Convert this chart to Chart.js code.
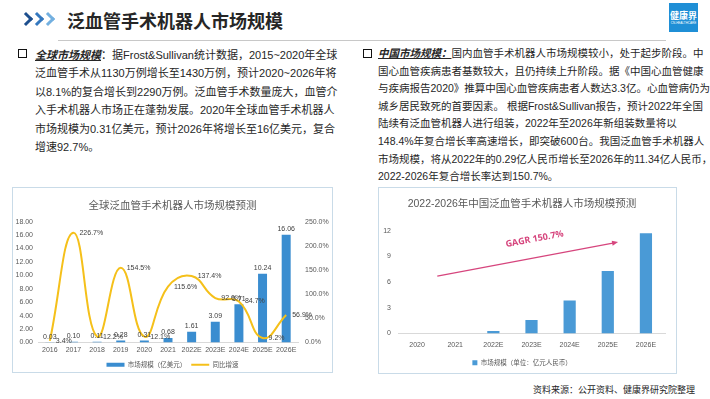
<!DOCTYPE html>
<html>
<head>
<meta charset="utf-8">
<script src="https://cdn.jsdelivr.net/npm/chart.js@4.4.0/dist/chart.umd.min.js"></script>
<style>
body { margin: 0; width: 710px; height: 399px; position: relative; overflow: hidden; background: #fff;
       font-family: "Liberation Sans", "Noto Sans CJK SC", sans-serif; color: #262626; }
.chev { position: absolute; top: 14px; width: 7px; height: 7px; border-top: 3px solid; border-right: 3px solid; transform: rotate(45deg); }
#title { position: absolute; left: 67px; top: 7px; font-size: 18px; font-weight: bold; color: #262626; }
#rule { position: absolute; left: 58px; top: 40px; width: 608px; height: 1px; background: #c8c8c8; }
#logo { position: absolute; left: 669px; top: 3px; width: 29px; height: 29px; background: #1f8fd6; color: #fff; text-align: center; }
#logo .cn { font-size: 9px; font-weight: bold; margin-top: 8px; line-height: 10px; }
#logo .en { font-size: 3px; line-height: 4px; }
.box { position: absolute; width: 7px; height: 7px; border: 1.5px solid #111; }
.para { position: absolute; white-space: nowrap; }
.para b { font-style: italic; text-decoration: underline; }
.frame { position: absolute; border: 1px solid #c9dbe8; }
canvas { position: absolute; }
#source { position: absolute; left: 533px; top: 383px; font-size: 9px; }
</style>
</head>
<body>
<span class="chev" style="left:21px;color:#1d4f8e"></span>
<span class="chev" style="left:32px;color:#3478bf"></span>
<span class="chev" style="left:43px;color:#73b0e0"></span>
<div id="title">泛血管手术机器人市场规模</div>
<div id="rule"></div>
<div id="logo"><div class="cn">健康界</div><div class="en">CN-HEALTHCARE</div></div>

<div class="box" style="left:18px;top:49px"></div>
<div class="para" style="left:35px;top:46px;line-height:18.4px;font-size:11px">
<b>全球市场规模</b>：据Frost&amp;Sullivan统计数据，2015~2020年全球<br>
泛血管手术从1130万例增长至1430万例，预计2020~2026年将<br>
以8.1%的复合增长到2290万例。泛血管手术数量庞大，血管介<br>
入手术机器人市场正在蓬勃发展。2020年全球血管手术机器人<br>
市场规模为0.31亿美元，预计2026年将增长至16亿美元，复合<br>
增速92.7%。
</div>

<div class="box" style="left:363px;top:49px"></div>
<div class="para" style="left:378px;top:45px;line-height:17.6px;font-size:10.5px">
<b>中国市场规模：</b>国内血管手术机器人市场规模较小，处于起步阶段。中<br>
国心血管疾病患者基数较大，且仍持续上升阶段。据《中国心血管健康<br>
与疾病报告2020》推算中国心血管疾病患者人数达3.3亿。心血管病仍为<br>
城乡居民致死的首要因素。 根据Frost&amp;Sullivan报告，预计2022年全国<br>
陆续有泛血管机器人进行组装，2022年至2026年新组装数量将以<br>
148.4%年复合增长率高速增长，即突破600台。我国泛血管手术机器人<br>
市场规模，将从2022年的0.29亿人民币增长至2026年的11.34亿人民币，<br>
2022-2026年复合增长率达到150.7%。
</div>

<div class="frame" style="left:12px;top:187px;width:319px;height:184px"></div>
<canvas id="globalChart" style="left:13px;top:188px;width:319px;height:184px" width="319" height="184"></canvas>

<div class="frame" style="left:378px;top:187px;width:297px;height:185px"></div>
<canvas id="chinaChart" style="left:379px;top:188px;width:296px;height:184px" width="296" height="184"></canvas>

<div id="source">资料来源：公开资料、健康界研究院整理</div>

<script>
// 全球市场数据
const globalYears = ['2016', '2017', '2018', '2019', '2020', '2021', '2022E', '2023E', '2024E', '2025E', '2026E'];
const globalMarket = [0.03, 0.10, 0.11, 0.28, 0.31, 0.68, 1.61, 3.09, 5.71, 10.24, 16.06];
const globalGrowth = [3.4, 226.7, 12.2, 154.5, 12.1, 115.6, 137.4, 92.0, 84.7, 9.2, 56.9];

// 中国市场数据
const chinaYears = ['2020', '2021', '2022E', '2023E', '2024E', '2025E', '2026E'];
const chinaMarket = [0, 0, 0.29, 1.56, 3.84, 7.29, 11.7];
const cagrLabel = 'GAGR 150.7%';

Chart.defaults.font.family = "'Liberation Sans', 'Noto Sans CJK SC', sans-serif";
Chart.defaults.color = '#595959';
Chart.defaults.animation = false;

const tickColor = '#595959';
const labelColor = '#404040';

// Підписи значень (бари та лінія)
const valueLabels = {
    id: 'valueLabels',
    afterDatasetsDraw(chart) {
        const ctx = chart.ctx;
        ctx.save();
        ctx.font = "7px 'Liberation Sans', sans-serif";
        ctx.fillStyle = labelColor;
        chart.data.datasets.forEach((ds, i) => {
            const meta = chart.getDatasetMeta(i);
            meta.data.forEach((el, j) => {
                if (ds.type === 'bar') {
                    ctx.textAlign = 'center';
                    ctx.textBaseline = 'bottom';
                    ctx.fillText(ds.data[j].toFixed(2), el.x, el.y - 2);
                } else {
                    ctx.textAlign = 'left';
                    ctx.textBaseline = 'middle';
                    ctx.fillText(ds.data[j].toFixed(1) + '%', el.x + 6, el.y);
                }
            });
        });
        ctx.restore();
    }
};

new Chart(document.getElementById('globalChart'), {
    data: {
        labels: globalYears,
        datasets: [
            {
                type: 'line',
                label: '同比增速',
                data: globalGrowth,
                yAxisID: 'yRate',
                borderColor: '#f5c01a',
                backgroundColor: '#f5c01a',
                borderWidth: 2,
                pointRadius: 0,
                tension: 0.45,
                pointStyle: 'line',
                order: 0
            },
            {
                type: 'bar',
                label: '市场规模（亿美元）',
                data: globalMarket,
                yAxisID: 'yValue',
                backgroundColor: '#3a8dd0',
                barPercentage: 0.38,
                categoryPercentage: 1,
                pointStyle: 'rect',
                order: 1
            }
        ]
    },
    options: {
        responsive: false,
        layout: { padding: { bottom: -6 } },
        plugins: {
            title: {
                display: true,
                text: '全球泛血管手术机器人市场规模预测',
                font: { size: 10.5, weight: 'normal' },
                color: '#595959',
                padding: { top: 12, bottom: 9 }
            },
            legend: {
                position: 'bottom',
                labels: {
                    usePointStyle: true,
                    pointStyleWidth: 18,
                    boxHeight: 4,
                    boxWidth: 18,
                    font: { size: 6.5 },
                    color: '#595959',
                    padding: 5,
                    sort: (a, b) => b.datasetIndex - a.datasetIndex
                }
            },
            tooltip: { enabled: false }
        },
        scales: {
            x: {
                grid: { display: false, drawTicks: false },
                border: { color: '#d9d9d9' },
                ticks: { font: { size: 7 }, color: tickColor, padding: 3, maxRotation: 0, minRotation: 0, autoSkip: false },
                afterFit: s => { s.height = 14; }
            },
            yValue: {
                position: 'left',
                min: 0,
                max: 18,
                grid: { display: false, drawTicks: false },
                border: { display: false },
                ticks: { stepSize: 2, font: { size: 7 }, color: tickColor, padding: 5, callback: v => v.toFixed(2) },
                afterFit: s => { s.width = 25; }
            },
            yRate: {
                position: 'right',
                min: 0,
                max: 250,
                grid: { display: false, drawTicks: false },
                border: { display: false },
                ticks: { stepSize: 50, font: { size: 7 }, color: tickColor, padding: 7, callback: v => v.toFixed(1) + '%' },
                afterFit: s => { s.width = 34; }
            }
        }
    },
    plugins: [valueLabels]
});

// Стрілка CAGR у координатах шкал
const cagrArrow = { from: { x: 0.53, y: 6.7 }, to: { x: 5.27, y: 10.66 }, text: { x: 3.08, y: 11.0 } };
const cagrPlugin = {
    id: 'cagrArrow',
    afterDatasetsDraw(chart) {
        const { ctx, scales } = chart;
        const x1 = scales.x.getPixelForValue(cagrArrow.from.x), y1 = scales.y.getPixelForValue(cagrArrow.from.y);
        const x2 = scales.x.getPixelForValue(cagrArrow.to.x), y2 = scales.y.getPixelForValue(cagrArrow.to.y);
        const ang = Math.atan2(y2 - y1, x2 - x1);
        ctx.save();
        ctx.strokeStyle = '#d6457d';
        ctx.fillStyle = '#d6457d';
        ctx.lineWidth = 1.2;
        ctx.beginPath();
        ctx.moveTo(x1, y1);
        ctx.lineTo(x2 - 4 * Math.cos(ang), y2 - 4 * Math.sin(ang));
        ctx.stroke();
        ctx.beginPath();
        ctx.moveTo(x2, y2);
        ctx.lineTo(x2 - 6 * Math.cos(ang) + 2.5 * Math.sin(ang), y2 - 6 * Math.sin(ang) - 2.5 * Math.cos(ang));
        ctx.lineTo(x2 - 6 * Math.cos(ang) - 2.5 * Math.sin(ang), y2 - 6 * Math.sin(ang) + 2.5 * Math.cos(ang));
        ctx.closePath();
        ctx.fill();
        const tx = scales.x.getPixelForValue(cagrArrow.text.x), ty = scales.y.getPixelForValue(cagrArrow.text.y);
        ctx.translate(tx, ty);
        ctx.rotate(ang);
        ctx.font = "bold 9px 'Open Sans', 'Liberation Sans', sans-serif";
        ctx.textAlign = 'center';
        ctx.textBaseline = 'middle';
        ctx.fillText(cagrLabel, 0, 0);
        ctx.restore();
    }
};

new Chart(document.getElementById('chinaChart'), {
    type: 'bar',
    data: {
        labels: chinaYears,
        datasets: [{
            label: '市场规模（单位：亿元人民币）',
            data: chinaMarket,
            backgroundColor: '#4a9ad6',
            barPercentage: 0.32,
            categoryPercentage: 1,
            pointStyle: 'rect'
        }]
    },
    options: {
        responsive: false,
        layout: { padding: { right: 10, bottom: -4 } },
        plugins: {
            title: {
                display: true,
                text: '2022-2026年中国泛血管手术机器人市场规模预测',
                font: { size: 10.5, weight: 'normal' },
                color: '#595959',
                padding: { top: 10, bottom: 20 }
            },
            legend: {
                position: 'bottom',
                labels: {
                    usePointStyle: true,
                    pointStyleWidth: 5,
                    boxHeight: 5,
                    boxWidth: 5,
                    font: { size: 6.5 },
                    color: '#595959',
                    padding: 6
                }
            },
            tooltip: { enabled: false }
        },
        scales: {
            x: {
                grid: { display: false, drawTicks: false },
                border: { color: '#d9d9d9' },
                ticks: { font: { size: 7 }, color: tickColor, padding: 7, maxRotation: 0, autoSkip: false },
                afterFit: s => { s.height = 20; }
            },
            y: {
                min: 0,
                max: 12,
                grid: { display: false, drawTicks: false },
                border: { display: false },
                ticks: { stepSize: 3, font: { size: 7 }, color: tickColor, padding: 7 },
                afterFit: s => { s.width = 19; }
            }
        }
    },
    plugins: [cagrPlugin]
});
</script>
</body>
</html>
